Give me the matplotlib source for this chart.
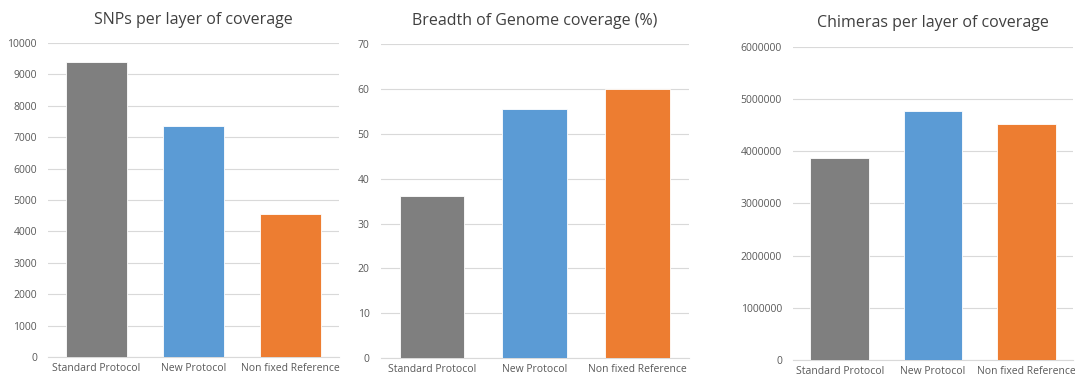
import matplotlib.pyplot as plt

categories = ["Standard Protocol", "New Protocol", "Non fixed Reference"]
colors = ["#7f7f7f", "#5b9bd5", "#ed7d31"]

snps = [9400, 7350, 4560]
breadth = [36.2, 55.6, 60.0]
chimeras = [3874000, 4763000, 4525000]

titles = [
    "SNPs per layer of coverage",
    "Breadth of Genome coverage (%)",
    "Chimeras per layer of coverage",
]
yticks = [
    list(range(0, 10001, 1000)),
    list(range(0, 71, 10)),
    list(range(0, 6000001, 1000000)),
]

boxes = [
    [0.0447, 0.063, 0.2706, 0.824],
    [0.3541, 0.0596, 0.2866, 0.825],
    [0.7377, 0.055, 0.2603, 0.8224],
]

plt.rcParams["font.family"] = ["Open Sans", "DejaVu Sans"]

fig = plt.figure(figsize=(10.75, 3.81), dpi=100)

for box, values, title, ticks in zip(boxes, [snps, breadth, chimeras], titles, yticks):
    ax = fig.add_axes(box)
    x = range(len(categories))
    ax.bar(x, values, width=0.63, color=colors, edgecolor="white", linewidth=0.6, zorder=3)
    ax.set_xlim(-0.5, len(categories) - 0.5)
    ax.set_ylim(ticks[0], ticks[-1])
    ax.set_yticks(ticks)
    ax.set_yticklabels([str(t) for t in ticks])
    ax.set_xticks(list(x))
    ax.set_xticklabels(categories, fontsize=7)
    ax.yaxis.grid(True, color="#d9d9d9", linewidth=0.8, zorder=0)
    ax.set_axisbelow(True)
    for side in ["top", "right", "left"]:
        ax.spines[side].set_visible(False)
    ax.spines["bottom"].set_color("#d9d9d9")
    ax.tick_params(axis="both", length=0, labelsize=7.5, colors="#595959", pad=4)
    ax.tick_params(axis="y", pad=8)
    ax.set_title(title, fontsize=11.5, color="#404040", pad=14)

fig.savefig("out.png", dpi=100)
